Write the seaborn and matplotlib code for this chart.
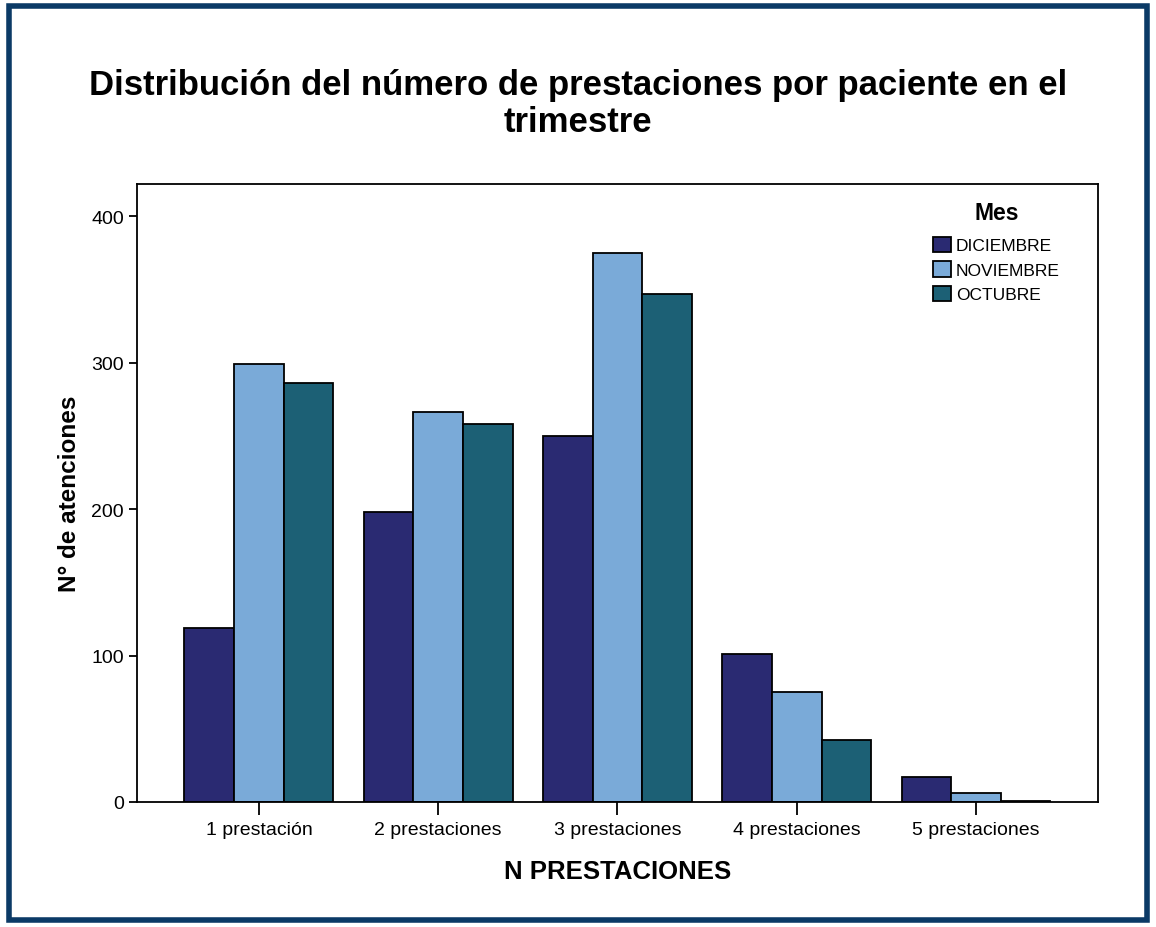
import matplotlib
matplotlib.use("Agg")
import matplotlib.pyplot as plt
import seaborn as sns
import pandas as pd
from matplotlib.patches import Rectangle

categories = ["1 prestación", "2 prestaciones", "3 prestaciones", "4 prestaciones", "5 prestaciones"]
months = ["DICIEMBRE", "NOVIEMBRE", "OCTUBRE"]
diciembre = [119, 198, 250, 101, 17]
noviembre = [299, 266, 375, 75, 6]
octubre = [286, 258, 347, 42, 1]
colors = ["#2a2a72", "#7aaad8", "#1c6075"]

rows = []
for m, vals in zip(months, [diciembre, noviembre, octubre]):
    for c, v in zip(categories, vals):
        rows.append({"cat": c, "Mes": m, "val": v})
df = pd.DataFrame(rows)

sns.set_style("white")
plt.rcParams["font.family"] = ["Liberation Sans", "DejaVu Sans"]
plt.rcParams["text.color"] = "black"
plt.rcParams["axes.labelcolor"] = "black"
plt.rcParams["xtick.color"] = "black"
plt.rcParams["ytick.color"] = "black"

fig = plt.figure(figsize=(11.56, 9.28), dpi=100)
ax = fig.add_axes([0.1185, 0.1347, 0.9498 - 0.1185, 0.8006 - 0.1347])

sns.barplot(data=df, x="cat", y="val", hue="Mes", order=categories, hue_order=months,
            palette=colors, width=0.83, gap=0, edgecolor="black", linewidth=1.3,
            saturation=1, ax=ax, errorbar=None)

ax.set_xlim(-0.68, 4.68)
ax.set_ylim(0, 422)
ax.set_yticks([0, 100, 200, 300, 400])
ax.tick_params(axis="both", labelsize=14, direction="out", length=6, width=1.3,
               color="black", labelcolor="black", left=True, bottom=True)
ax.tick_params(axis="x", length=9, pad=5)
for s in ax.spines.values():
    s.set_color("black")
    s.set_linewidth(1.3)
ax.set_xlabel("N PRESTACIONES", fontsize=18.5, fontweight="bold", labelpad=15, color="black")
ax.set_ylabel("N° de atenciones", fontsize=17.5, fontweight="bold", labelpad=7, color="black")

leg = ax.legend(title="Mes", loc="upper right", bbox_to_anchor=(0.973, 0.993), frameon=False,
                fontsize=12.5, title_fontproperties={"weight": "bold", "size": 16.5},
                handlelength=1.0, handleheight=1.0, handletextpad=0.3, labelspacing=0.45,
                borderaxespad=0.3)
leg._legend_box.sep = 9.5
for h in leg.legend_handles:
    h.set_edgecolor("black")
    h.set_linewidth(1.3)

fig.text(0.5, 0.8875, "Distribución del número de prestaciones por paciente en el\ntrimestre",
         ha="center", va="center", fontsize=25, fontweight="bold", linespacing=1.15, color="black")

fig.patches.append(Rectangle((0.0075, 0.0075), 0.985, 0.985, transform=fig.transFigure,
                             fill=False, edgecolor="#0b3a66", linewidth=4))

fig.savefig("out.png", dpi=100)
